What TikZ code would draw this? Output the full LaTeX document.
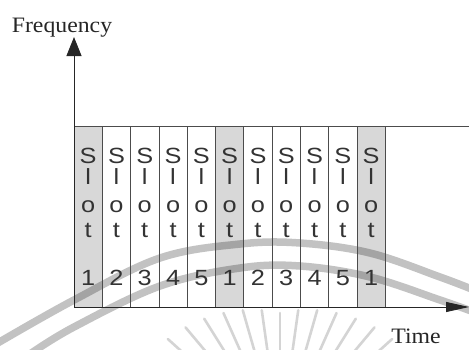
\documentclass[tikz,border=0pt]{standalone}
\usepackage{fontspec}
\setmainfont{Liberation Serif}
\newfontfamily\slotfont[FakeStretch=1.15]{Liberation Sans}
\newfontfamily\axisfont[FakeStretch=1.08]{Liberation Serif}
\usetikzlibrary{arrows.meta}
\definecolor{ink}{HTML}{262626}
\definecolor{slotink}{HTML}{333333}
\definecolor{rulegray}{HTML}{4C4C4C}
\definecolor{shade}{HTML}{D8D8D8}
\tikzset{
  axisline/.style={draw=ink, line width=0.9pt},
  slotline/.style={draw=rulegray, line width=0.8pt},
  shadedslot/.style={fill=shade, draw=none},
  slotchar/.style={inner sep=0pt, anchor=base, text=slotink,
    font=\slotfont\fontsize{22}{22}\selectfont},
  axislabel/.style={inner sep=0pt, anchor=base, text=ink,
    font=\axisfont\fontsize{22}{22}\selectfont},
  markband/.style={draw=black, draw opacity=0.24, line width=7.5pt, line cap=round},
  markray/.style={draw=black, draw opacity=0.17, line width=2.6pt, line cap=round}
}
\begin{document}
\begin{tikzpicture}[x=1pt, y=-1pt]
\useasboundingbox (0,0) rectangle (469,349);

% frame corners and slot geometry
\coordinate (O) at (74,307);
\coordinate (ytip) at (74,37);
\coordinate (xtip) at (469,307);
\coordinate (topL) at (74,126);
\coordinate (topR) at (469,126);
\coordinate (hub) at (280,440);
\def\slotw{28.3}

% shaded slots (first, sixth and eleventh)
\foreach \i in {1,6,11} {
  \path[shadedslot] ({74+\slotw*(\i-1)},126) rectangle ({74+\slotw*\i},307);
}

% faint emblem arcs and rays in the background
\draw[markband] plot[smooth, tension=0.6] coordinates
  {(-4,344) (74,300) (160,258) (240,244) (300,243) (370,253) (440,277) (474,290)};
\draw[markband] plot[smooth, tension=0.6] coordinates
  {(30,354) (74,327) (160,286) (240,268) (300,266) (370,277) (440,300) (474,312)};
\foreach \a in {-56,-48,...,48} {
  \pgfmathsetmacro{\rr}{127+0.5*abs(\a)}
  \draw[markray] (hub) ++(270+\a:90) -- ++(270+\a:\rr-90);
}

% slot separators and top edge
\foreach \i in {1,...,11} {
  \draw[slotline] ({74+\slotw*\i},126) -- ({74+\slotw*\i},307);
}
\draw[slotline] (topL) -- (topR);

% slot captions
\foreach \i/\n in {1/1,2/2,3/3,4/4,5/5,6/1,7/2,8/3,9/4,10/5,11/1} {
  \pgfmathsetmacro{\cx}{74+\slotw*(\i-0.5)}
  \node[slotchar] (s\i) at (\cx,163) {S};
  \node[slotchar] (l\i) at (\cx,184) {l};
  \node[slotchar] (o\i) at (\cx,212) {o};
  \node[slotchar] (t\i) at (\cx,237) {t};
  \node[slotchar] (n\i) at (\cx,285) {\n};
}

% axes
\draw[axisline, -{Triangle[length=19pt, width=15pt]}] (O) -- (ytip);
\draw[axisline, -{Triangle[length=23pt, width=10pt]}] (O) -- (xtip);

\node[axislabel] (freq) at (62,32) {Frequency};
\node[axislabel] (time) at (416,343) {Time};
\end{tikzpicture}
\end{document}
